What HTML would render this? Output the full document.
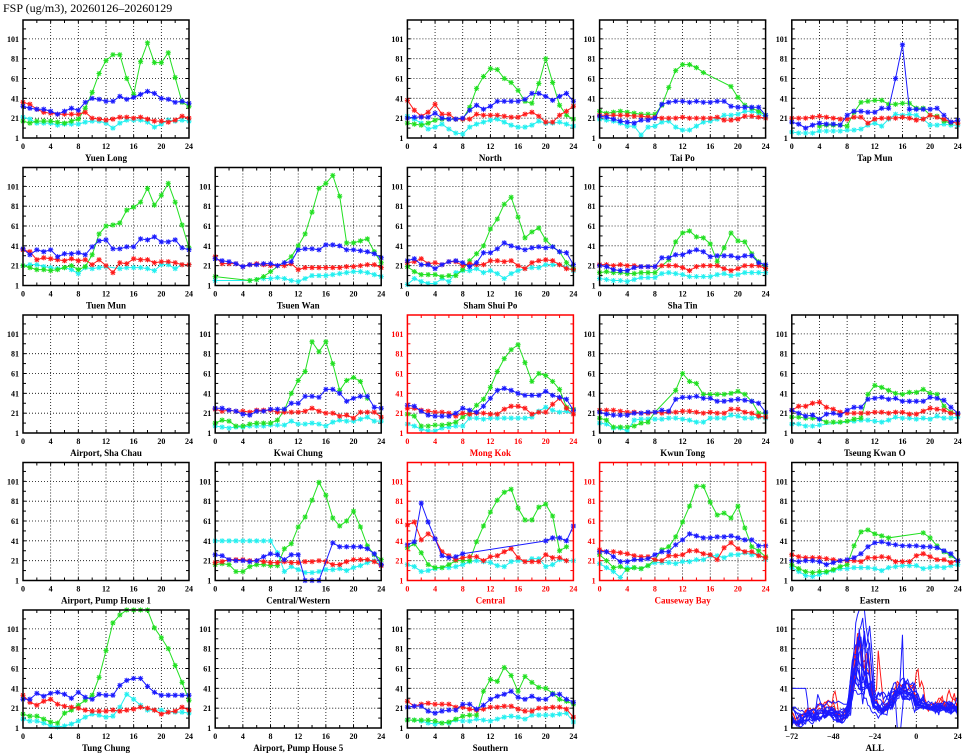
<!DOCTYPE html>
<html><head><meta charset="utf-8">
<style>
html,body{margin:0;padding:0;background:#fff;}
svg{display:block;font-family:"Liberation Serif",serif;}
</style></head>
<body>
<svg id="chart" width="965" height="755" viewBox="0 0 965 755" xmlns="http://www.w3.org/2000/svg">
<rect width="965" height="755" fill="#fff"/>
<text x="3" y="12" font-size="12" fill="#000">FSP (ug/m3), 20260126–20260129</text>
</svg>
<script>
// ---- tick labels ----
const xTickLabels = [0,4,8,12,16,20,24];
const yTickLabels = [1,21,41,61,81,101];
const allXTickLabels = [-72,-48,-24,0,24];

// ---- series data (hour 0..24); red = day 0, blue = day -1, green = day -2, cyan = day -3 ----
const yuenLongRed   = [37,35,30,27,26,25,25,25,25,27,21,20,19,20,22,22,21,22,20,18,18,17,19,23,21];
const yuenLongBlue  = [33,31,30,30,28,25,28,31,29,37,41,40,38,38,43,40,42,45,48,46,41,40,37,38,36];
const yuenLongGreen = [18,16,18,18,18,17,16,18,20,31,47,66,79,85,85,61,45,78,97,77,77,87,62,37,33];
const yuenLongCyan  = [22,20,16,16,16,14,15,15,15,17,18,18,16,11,16,19,19,19,17,12,15,19,18,19,18];

const northRed   = [39,29,23,27,35,25,25,20,20,20,25,24,24,24,23,22,22,25,27,23,17,17,24,28,33];
const northBlue  = [21,22,22,22,26,21,20,20,21,29,34,30,33,38,38,38,38,40,46,46,43,39,43,46,38];
const northGreen = [16,15,14,16,19,20,20,20,20,32,51,63,71,70,61,57,49,38,36,56,81,57,34,24,20];
const northCyan  = [23,20,16,10,12,15,10,6,5,12,15,17,19,20,17,14,12,12,14,18,16,16,17,15,13];

const taiPoRed   = [24,24,24,24,24,23,23,22,22,21,21,21,22,21,21,21,21,22,19,19,20,23,23,22,21];
const taiPoBlue  = [23,22,20,18,17,16,19,19,21,35,37,38,38,37,38,37,37,38,38,33,32,32,32,32,24];
const taiPoGreen = [28,26,27,28,27,26,25,25,25,34,52,69,75,75,72,67,null,null,null,53,42,34,31,28,24];
const taiPoCyan  = [20,19,18,16,13,13,4,12,13,17,18,12,9,9,13,17,18,20,24,24,25,28,28,26,22];

const tapMunRed   = [21,21,21,22,23,22,21,20,20,22,22,16,20,21,21,21,22,21,19,20,24,22,20,17,16];
const tapMunBlue  = [17,15,11,14,16,15,15,14,24,28,28,27,27,31,31,61,95,30,30,30,30,31,24,17,19];
const tapMunGreen = [null,null,null,null,13,14,14,14,13,27,37,38,39,39,35,35,36,36,31,31,24,23,18,16,null];
const tapMunCyan  = [7,6,6,6,8,8,8,8,9,9,10,14,16,13,20,25,24,25,24,20,14,14,15,14,14];

const tuenMunRed   = [37,35,27,29,28,27,26,28,26,27,22,27,21,14,24,23,28,27,27,24,25,25,24,22,22];
const tuenMunBlue  = [38,32,37,35,37,30,33,33,34,32,40,46,47,38,38,40,40,48,47,50,45,45,47,39,37];
const tuenMunGreen = [21,19,17,17,16,17,19,21,17,20,32,53,61,62,64,77,80,85,99,82,92,104,85,62,39];
const tuenMunCyan  = [21,22,22,20,19,18,19,17,13,19,18,19,20,null,18,19,19,19,18,16,22,22,18,22,22];

const tsuenWanRed   = [30,23,23,23,20,22,23,22,21,21,21,23,17,19,19,19,19,19,19,20,20,21,22,22,19];
const tsuenWanBlue  = [28,26,25,23,20,22,22,23,23,21,24,25,37,38,38,37,42,42,41,37,37,36,35,33,29];
const tsuenWanGreen = [10,null,null,null,null,6,7,10,15,null,null,30,41,53,75,99,104,112,91,44,44,46,48,35,24];
const tsuenWanCyan  = [6,null,null,null,null,6,7,8,8,9,8,6,5,8,11,11,11,12,13,14,15,15,14,12,10];

const shamShuiPoRed   = [24,25,28,23,24,22,25,25,21,23,22,22,26,26,25,26,21,18,24,26,27,26,22,18,17];
const shamShuiPoBlue  = [26,28,22,22,18,22,25,26,24,20,24,34,34,38,44,41,39,37,39,40,39,40,35,34,22];
const shamShuiPoGreen = [20,15,12,12,12,10,11,11,17,26,33,41,58,68,83,90,70,49,55,59,47,40,35,24,18];
const shamShuiPoCyan  = [2,8,5,3,3,8,5,14,16,16,18,14,16,13,8,13,16,18,19,19,22,22,22,19,16];

const shaTinRed   = [22,22,21,22,21,21,20,20,20,21,21,21,19,16,20,21,21,21,18,16,18,21,21,21,18];
const shaTinBlue  = [21,20,17,16,16,19,20,20,20,29,29,32,32,35,37,35,30,31,31,31,29,31,31,24,22];
const shaTinGreen = [14,15,14,14,13,13,14,14,14,null,27,45,54,56,50,49,43,25,39,54,46,45,33,25,20];
const shaTinCyan  = [8,7,6,6,5,7,9,9,9,13,14,13,12,10,10,10,10,12,13,11,12,14,14,14,14];

const kwaiChungRed   = [25,23,24,23,23,22,24,24,24,22,22,22,22,23,26,23,21,21,18,19,16,22,22,22,17];
const kwaiChungBlue  = [26,26,24,23,20,19,23,23,25,25,25,31,31,38,38,37,45,45,41,33,36,38,38,27,26];
const kwaiChungGreen = [11,14,13,8,8,10,11,11,11,14,24,41,54,63,93,83,93,71,44,54,57,53,36,null,null];
const kwaiChungCyan  = [8,7,6,7,7,8,8,8,9,9,9,13,10,10,11,10,8,12,14,13,13,15,17,13,13];

const mongKokRed   = [26,26,24,23,22,22,21,18,21,20,21,21,20,20,25,28,28,26,20,22,22,30,36,26,20];
const mongKokBlue  = [29,28,23,19,18,18,18,21,26,24,22,28,36,44,46,44,41,39,39,39,43,39,37,35,24];
const mongKokGreen = [20,18,8,8,9,9,10,12,17,21,29,35,47,63,76,85,90,72,53,61,59,53,45,27,25];
const mongKokCyan  = [10,8,5,3,3,6,7,8,8,16,16,15,16,16,16,16,16,16,17,23,27,24,22,23,20];

const kwunTongRed   = [24,24,24,23,22,22,21,21,22,21,22,22,23,23,22,21,22,21,21,25,25,22,21,18,17];
const kwunTongBlue  = [22,20,19,19,19,21,21,22,22,24,23,35,37,37,38,36,36,33,33,34,35,34,33,31,22];
const kwunTongGreen = [16,14,7,7,7,8,11,12,22,null,null,44,61,53,51,40,40,40,40,41,43,40,33,21,21];
const kwunTongCyan  = [11,10,6,6,3,14,15,15,15,15,16,16,15,14,12,12,16,16,16,19,18,16,16,17,16];

const tseungKwanORed   = [24,28,28,31,32,27,25,22,21,21,21,21,22,22,21,22,22,20,20,23,26,25,24,21,20];
const tseungKwanOBlue  = [24,21,18,19,15,20,21,19,24,27,27,35,36,37,35,36,33,33,33,33,37,36,34,27,21];
const tseungKwanOGreen = [17,17,16,16,15,12,12,12,13,15,16,40,49,47,44,41,40,42,42,45,41,40,28,22,20];
const tseungKwanOCyan  = [10,10,8,8,9,null,null,null,null,13,14,14,13,12,14,17,16,16,15,16,15,18,16,16,17];

const centralWesternRed   = [19,20,22,22,22,21,21,20,19,19,20,19,19,20,20,21,20,17,17,20,22,22,22,20,16];
const centralWesternBlue  = [27,26,22,21,21,20,21,25,28,27,22,27,27,1,1,1,null,39,35,35,35,35,33,28,17];
const centralWesternGreen = [17,18,17,10,10,15,17,17,16,16,33,38,55,65,82,100,87,64,56,61,71,55,36,27,22];
const centralWesternCyan  = [41,41,41,41,41,41,41,41,41,29,10,15,12,9,9,10,12,12,13,11,14,16,19,21,17];

const centralRed   = [57,60,42,48,43,30,26,22,24,25,25,21,25,26,30,33,24,20,20,20,27,24,24,21,null];
const centralBlue  = [37,40,79,60,43,26,24,25,28,null,null,null,null,null,null,null,null,null,null,null,41,44,44,41,56];
const centralGreen = [34,38,29,17,14,14,17,21,21,21,40,56,70,82,90,93,74,62,62,75,78,66,31,35,null];
const centralCyan  = [17,15,10,11,13,14,14,15,17,20,21,20,19,16,15,20,21,20,23,23,15,17,22,21,21];

const causewayBayRed   = [32,30,30,29,28,26,25,25,22,21,26,26,27,31,31,28,27,22,34,39,33,30,30,26,24];
const causewayBayBlue  = [30,30,25,20,20,22,22,23,27,30,30,37,42,48,46,44,44,45,45,46,44,42,42,36,36];
const causewayBayGreen = [27,21,14,15,12,14,13,16,22,32,35,45,60,76,96,96,80,67,69,64,76,54,35,31,25];
const causewayBayCyan  = [18,14,10,4,14,14,13,16,19,19,19,18,20,20,22,22,26,26,24,27,27,29,27,27,22];

const easternRed   = [27,25,24,24,24,23,22,21,21,21,20,24,24,25,24,20,20,20,26,28,25,22,22,19,21];
const easternBlue  = [21,20,21,21,20,17,19,21,22,24,28,35,39,40,38,37,36,36,36,35,35,34,31,28,21];
const easternGreen = [17,13,10,9,10,10,12,15,17,36,50,52,48,46,44,null,null,null,null,49,44,36,30,26,21];
const easternCyan  = [14,10,6,5,7,9,11,13,13,14,14,14,13,11,14,15,16,16,16,13,14,15,14,16,17];

const tungChungRed   = [34,27,24,28,30,25,23,22,21,19,18,18,18,19,18,19,20,22,21,19,15,17,18,22,19];
const tungChungBlue  = [30,30,36,33,36,37,35,31,37,32,30,35,34,34,44,49,51,51,43,37,34,34,34,34,34];
const tungChungGreen = [15,13,13,10,7,6,16,19,24,29,34,52,79,107,115,121,121,121,121,102,92,81,64,47,29];
const tungChungCyan  = [10,8,8,6,3,2,3,5,8,12,15,14,12,13,22,35,30,24,19,19,19,17,17,17,16];

const southernRed   = [28,23,25,26,25,25,25,22,22,20,19,20,22,22,23,23,20,18,18,21,21,22,22,20,12];
const southernBlue  = [22,23,23,18,16,18,19,19,25,25,20,24,30,33,35,38,32,30,33,30,30,35,35,30,27];
const southernGreen = [9,9,9,9,8,6,7,10,13,14,14,38,50,48,62,54,38,53,47,42,41,36,30,28,25];
const southernCyan  = [9,9,8,6,5,6,6,9,8,8,10,9,8,10,12,13,12,10,14,14,14,14,15,16,7];

const stationNames = ["Yuen Long","North","Tai Po","Tap Mun","Tuen Mun","Tsuen Wan","Sham Shui Po","Sha Tin",
 "Airport, Sha Chau","Kwai Chung","Mong Kok","Kwun Tong","Tseung Kwan O",
 "Airport, Pump House 1","Central/Western","Central","Causeway Bay","Eastern",
 "Tung Chung","Airport, Pump House 5","Southern"];
const stationRows = [0,0,0,0,1,1,1,1,2,2,2,2,2,3,3,3,3,3,4,4,4];
const stationCols = [0,2,3,4,0,1,2,3,0,1,2,3,4,0,1,2,3,4,0,1,2];
const stationHighlight = [0,0,0,0,0,0,0,0,0,0,1,0,0,0,0,1,1,0,0,0,0];
const stationSeries = [
 [yuenLongCyan,yuenLongGreen,yuenLongRed,yuenLongBlue],
 [northCyan,northGreen,northRed,northBlue],
 [taiPoCyan,taiPoGreen,taiPoRed,taiPoBlue],
 [tapMunCyan,tapMunGreen,tapMunRed,tapMunBlue],
 [tuenMunCyan,tuenMunGreen,tuenMunRed,tuenMunBlue],
 [tsuenWanCyan,tsuenWanGreen,tsuenWanRed,tsuenWanBlue],
 [shamShuiPoCyan,shamShuiPoGreen,shamShuiPoRed,shamShuiPoBlue],
 [shaTinCyan,shaTinGreen,shaTinRed,shaTinBlue],
 null,
 [kwaiChungCyan,kwaiChungGreen,kwaiChungRed,kwaiChungBlue],
 [mongKokCyan,mongKokGreen,mongKokRed,mongKokBlue],
 [kwunTongCyan,kwunTongGreen,kwunTongRed,kwunTongBlue],
 [tseungKwanOCyan,tseungKwanOGreen,tseungKwanORed,tseungKwanOBlue],
 null,
 [centralWesternCyan,centralWesternGreen,centralWesternRed,centralWesternBlue],
 [centralCyan,centralGreen,centralRed,centralBlue],
 [causewayBayCyan,causewayBayGreen,causewayBayRed,causewayBayBlue],
 [easternCyan,easternGreen,easternRed,easternBlue],
 [tungChungCyan,tungChungGreen,tungChungRed,tungChungBlue],
 null,
 [southernCyan,southernGreen,southernRed,southernBlue]
];
const seriesNames = ["day-minus-3","day-minus-2","day-0","day-minus-1"];
const seriesColors = ["#22f0f0","#22e022","#ff1a1a","#1a1aff"];

// ---- layout ----
const svg = document.getElementById('chart');
const NS = 'http://www.w3.org/2000/svg';
const PW = 166, PH = 118, YMIN = 1, YMAX = 120;
function px(c){ return 23 + 192.2*c; }
function pyBottom(r){ return 138 + 147.5*r; }
function el(tag, attrs, parent){ const e=document.createElementNS(NS,tag); for(const k in attrs) e.setAttribute(k,attrs[k]); (parent||svg).appendChild(e); return e; }

function makePanel(r, c, name, hl, xmin, xmax, xLabels, gridX, minorStep){
  const x0 = px(c), yb = pyBottom(r), yt = yb - PH;
  const col = hl ? '#ff0000' : '#000';
  const g = el('g', {});
  
  
  const sx = v => x0 + (v - xmin) / (xmax - xmin) * PW;
  const sy = v => yb - (Math.min(Math.max(v,YMIN),YMAX) - YMIN) / (YMAX - YMIN) * PH;
  gridX.forEach(v => { const l=el('line',{x1:sx(v),x2:sx(v),y1:yt,y2:yb,stroke:'#000','stroke-width':0.8,'stroke-dasharray':'1,2'},g);
      });
  yTickLabels.slice(1).forEach(v => { const l=el('line',{x1:x0,x2:x0+PW,y1:sy(v),y2:sy(v),stroke:'#000','stroke-width':0.8,'stroke-dasharray':'1,2'},g);
      });
  for(let v=xmin; v<=xmax; v+=minorStep){ const X=sx(v);
    el('line',{x1:X,x2:X,y1:yb,y2:yb-3,stroke:col,'stroke-width':1},g);
    el('line',{x1:X,x2:X,y1:yt,y2:yt+3,stroke:col,'stroke-width':1},g); }
  for(let v=1; v<=YMAX; v+=10){ const Y=sy(v);
    el('line',{x1:x0,x2:x0+3,y1:Y,y2:Y,stroke:col,'stroke-width':1},g);
    el('line',{x1:x0+PW,x2:x0+PW-3,y1:Y,y2:Y,stroke:col,'stroke-width':1},g); }
  yTickLabels.forEach(v => { const t=el('text',{x:x0-4,y:sy(v)+3,'font-size':8,'font-weight':'bold','text-anchor':'end',fill:col},g); t.textContent=v;
      });
  xLabels.forEach(v => { const t=el('text',{x:sx(v),y:yb+11,'font-size':8,'font-weight':'bold','text-anchor':'middle',fill:col},g); t.textContent=(v<0?'\u2212'+(-v):v);
      });
  const nt=el('text',{x:x0+PW/2,y:yb+23,'font-size':9,'font-weight':'bold','text-anchor':'middle',fill:col},g); nt.textContent=name;
   
  return {g, sx, sy, x0, yt, yb, col};
}

function frame(p){
  const f=el('rect',{x:p.x0,y:p.yt,width:PW,height:PH,fill:'none',stroke:p.col,'stroke-width':1.5},p.g);
   
}

function star(g, X, Y, color){
  const s=2.6, d=2;
  const m=el('path',{d:`M${X-s} ${Y}h${2*s}M${X} ${Y-s}v${2*s}M${X-d} ${Y-d}l${2*d} ${2*d}M${X-d} ${Y+d}l${2*d} ${-2*d}`,stroke:color,'stroke-width':1,fill:'none'},g);
   
}

for(let i=0;i<stationNames.length;i++){
  const p = makePanel(stationRows[i], stationCols[i], stationNames[i], stationHighlight[i], 0, 24, xTickLabels, [4,8,12,16,20], 2);
  const ser = stationSeries[i];
  if(ser){
    ser.forEach((arr, k) => {
      const pts = [];
      arr.forEach((v,h) => { if(v!==null && v!==undefined) pts.push([p.sx(h), p.sy(v)]); });
      const line = el('polyline',{points:pts.map(q=>q.join(',')).join(' '),fill:'none',stroke:seriesColors[k],'stroke-width':1},p.g);
      
      
      pts.forEach(q => star(p.g, q[0], q[1], seriesColors[k]));
    });
  }
  frame(p);
}

// ALL panel: red (highlighted) stations drawn first, blue stations on top
(function(){
  const p = makePanel(4, 4, 'ALL', 0, -72, 24, allXTickLabels, [-48,-24,0], 12);
  const order = [];
  for(let i=0;i<stationSeries.length;i++) if(stationSeries[i] && stationHighlight[i]) order.push(i);
  for(let i=0;i<stationSeries.length;i++) if(stationSeries[i] && !stationHighlight[i]) order.push(i);
  order.forEach(i => {
    const ser = stationSeries[i];
    const seq = [ser[0], ser[1], ser[3], ser[2]];
    const offs = [-72, -48, -24, 0];
    const pts = [];
    seq.forEach((arr, k) => {
      const last = (k===3) ? 24 : 23;
      for(let h=0; h<=last; h++){ const v=arr[h]; if(v!==null && v!==undefined) pts.push([p.sx(h+offs[k]), p.sy(v)]); }
    });
    const line = el('polyline',{points:pts.map(q=>q.join(',')).join(' '),fill:'none',stroke:stationHighlight[i]?'#ff1a1a':'#1a1aff','stroke-width':1},p.g);
    
    
  });
  frame(p);
})();
</script>
</body></html>
